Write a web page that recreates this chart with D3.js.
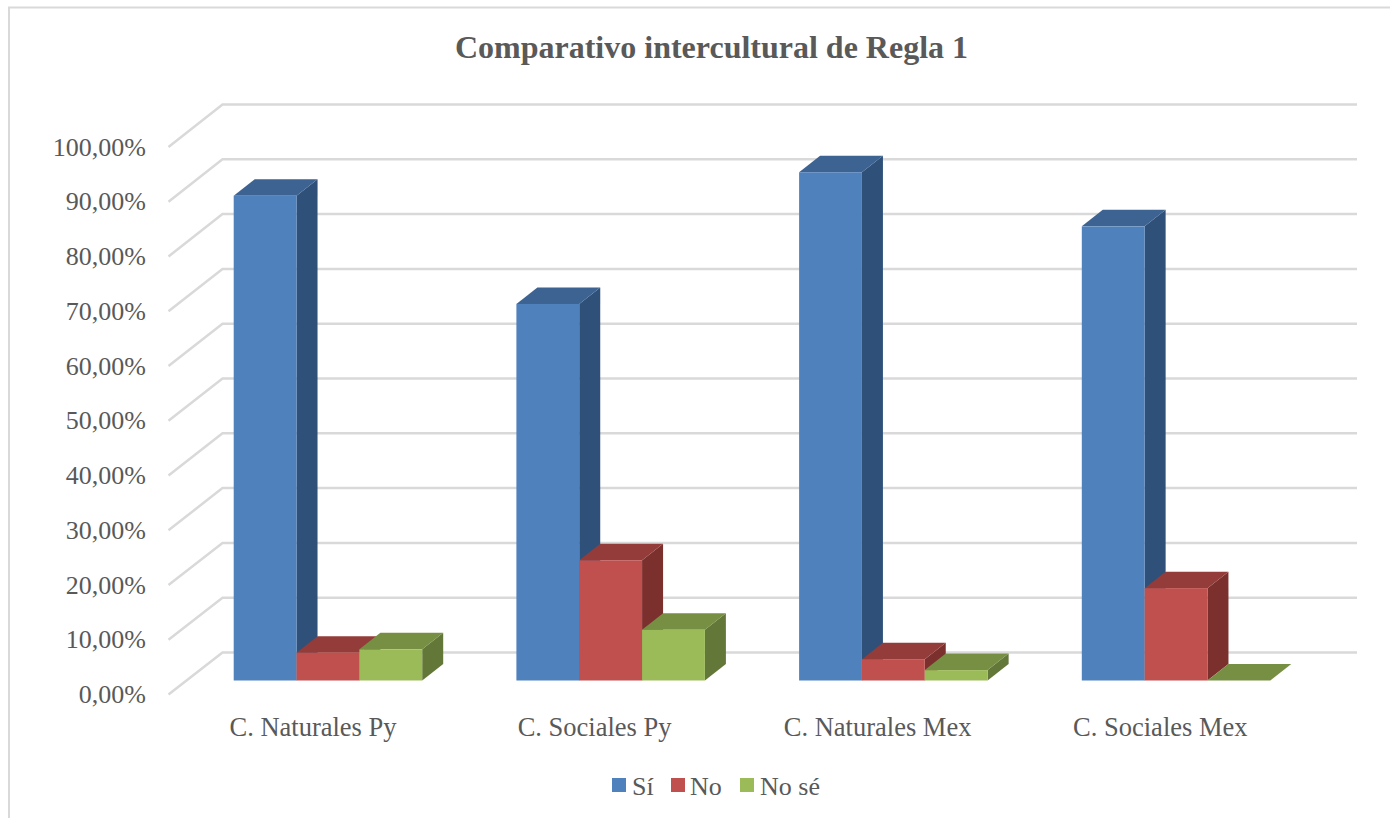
<!DOCTYPE html>
<html><head><meta charset="utf-8"><script src="https://cdn.jsdelivr.net/npm/d3@7"></script>
<style>html,body{margin:0;padding:0;background:#fff}svg{display:block}text{font-family:"Liberation Serif",serif;fill:#595959}</style></head>
<body><svg id="c" width="1397" height="818"></svg>
<script>
const title = "Comparativo intercultural de Regla 1";
const categories = ["C. Naturales Py","C. Sociales Py","C. Naturales Mex","C. Sociales Mex"];
const seriesNames = ["Sí","No","No sé"];
const si = [88.7,68.9,93.0,83.1];
const no = [5.1,22.0,3.9,16.9];
const nose = [5.7,9.3,1.9,0];
const ticks = [0,10,20,30,40,50,60,70,80,90,100];
const colors = [
 {front:"#4f81bd",top:"#3d6392",side:"#2f5079"},
 {front:"#c0504d",top:"#943c3a",side:"#7b302e"},
 {front:"#9bbb59",top:"#778f43",side:"#637738"}];
const svg = d3.select("#c");
const depthX=54, depthY=-42, barDX=21, barDY=-16.5;
const yFront = d3.scaleLinear().domain([0,100]).range([694.5,147]);
const yBack = d3.scaleLinear().domain([0,100]).range([652.5,104.5]);
const yBar = d3.scaleLinear().domain([0,100]).range([680.5,134]);
const xBand = d3.scaleBand().domain(categories).range([190.2,1321]);
const xBar = (i)=>d3.scaleBand().domain(seriesNames).range([xBand(categories[i])+43.5,xBand(categories[i])+43.5+188.5]);
// frame
svg.append("path").attr("d","M9,818V7.5H1390").attr("fill","none").attr("stroke","#d9d9d9").attr("stroke-width",2);
// walls
const g = svg.append("g").attr("fill","none").attr("stroke","#d9d9d9").attr("stroke-width",2.5);
ticks.forEach(t=>{
  g.append("path").attr("d",`M${168.5},${yFront(t)}L${168.5+depthX},${yBack(t)}H1357`);
});
// axis labels
svg.append("g").selectAll("text").data(ticks).join("text")
 .attr("x",146).attr("y",t=>yFront(t)+8.5).attr("text-anchor","end").attr("font-size",26)
 .text(t=>d3.format(".2f")(t).replace(".",",")+"%");
svg.append("text").attr("x",711.5).attr("y",58).attr("text-anchor","middle").attr("font-size",32).attr("font-weight","bold").text(title);
svg.append("g").selectAll("text").data(categories).join("text")
 .attr("x",(d,i)=>xBand(d)+[122.8,121.7,122,122][i]).attr("y",736).attr("text-anchor","middle").attr("font-size",26.5).text(d=>d);
// bars
const series=[si,no,nose];
categories.forEach((c,i)=>{
  const x=xBar(i);
  series.forEach((vals,s)=>{
    const v=vals[i], bx=x(seriesNames[s]), w=x.bandwidth(), y0=yBar(0), y1=yBar(v), col=colors[s];
    const bar=svg.append("g");
    bar.append("path").attr("fill",col.side).attr("d",`M${bx+w},${y1}l${barDX},${barDY}V${y0+barDY}l${-barDX},${-barDY}Z`);
    bar.append("path").attr("fill",col.top).attr("d",`M${bx},${y1}l${barDX},${barDY}h${w}l${-barDX},${-barDY}Z`);
    if(v>0) bar.append("rect").attr("fill",col.front).attr("x",bx).attr("y",y1).attr("width",w).attr("height",y0-y1);
  });
});
// legend
const legX=[612,671,740], legT=[632,690,760];
seriesNames.forEach((n,i)=>{
  svg.append("rect").attr("x",legX[i]).attr("y",778).attr("width",14).attr("height",14).attr("fill",colors[i].front);
  svg.append("text").attr("x",legT[i]).attr("y",795).attr("font-size",26).text(n);
});
</script></body></html>
